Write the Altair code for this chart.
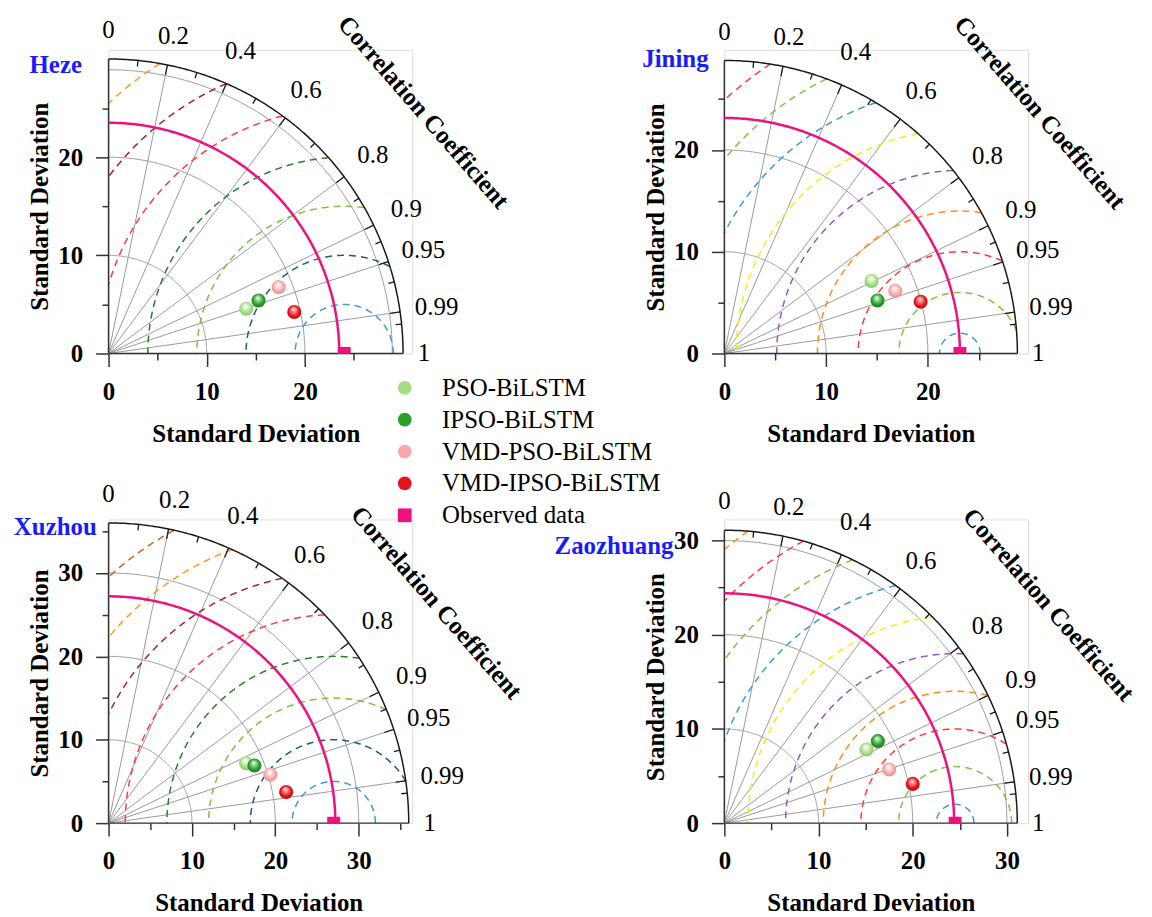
import numpy as np
import pandas as pd
import altair as alt

FONT = "Liberation Serif"

# ---------------- data ----------------
STATIONS = ["Heze", "Jining", "Xuzhou", "Zaozhuang"]
MODELS = ["PSO-BiLSTM", "IPSO-BiLSTM", "VMD-PSO-BiLSTM", "VMD-IPSO-BiLSTM"]
OBS_LABEL = "Observed data"

# standard deviation of each model (order of MODELS)
STD_HEZE = [14.75, 16.20, 18.60, 19.38]
STD_JINING = [16.13, 15.93, 17.89, 19.95]
STD_XUZHOU = [18.00, 18.81, 20.25, 21.62]
STD_ZAOZHUANG = [17.00, 18.48, 18.40, 20.43]
# correlation coefficient of each model (order of MODELS)
CORR_HEZE = [0.951, 0.943, 0.932, 0.976]
CORR_JINING = [0.897, 0.945, 0.939, 0.967]
CORR_XUZHOU = [0.917, 0.930, 0.958, 0.985]
CORR_ZAOZHUANG = [0.888, 0.882, 0.951, 0.979]

STD = {"Heze": STD_HEZE, "Jining": STD_JINING, "Xuzhou": STD_XUZHOU, "Zaozhuang": STD_ZAOZHUANG}
CORR = {"Heze": CORR_HEZE, "Jining": CORR_JINING, "Xuzhou": CORR_XUZHOU, "Zaozhuang": CORR_ZAOZHUANG}

OBS_STD = {"Heze": 24.0, "Jining": 23.15, "Xuzhou": 27.0, "Zaozhuang": 24.5}      # observed marker
OBS_ARC = {"Heze": 23.5, "Jining": 23.15, "Xuzhou": 27.2, "Zaozhuang": 24.4}      # magenta reference arc
STD_MAX = {"Heze": 30.0, "Jining": 28.8, "Xuzhou": 36.0, "Zaozhuang": 31.1}
STD_GRID = {"Heze": [10, 20, 28.9], "Jining": [10, 20], "Xuzhou": [10, 20, 30], "Zaozhuang": [10, 20, 30]}
STD_TICKS = {"Heze": [0, 5, 10, 15, 20, 25], "Jining": [0, 5, 10, 15, 20, 25],
             "Xuzhou": [0, 5, 10, 15, 20, 25, 30, 35], "Zaozhuang": [0, 5, 10, 15, 20, 25, 30]}
RMSD_LEVELS = {"Heze": [5, 10, 15, 20, 25, 30, 35],
               "Jining": [2, 6, 10, 14, 18, 22, 26, 30, 34],
               "Xuzhou": [5, 10, 15, 20, 25, 30, 35, 40],
               "Zaozhuang": [2, 6, 10, 14, 18, 22, 26, 30, 34, 38]}
CORR_LABELS = [0, 0.2, 0.4, 0.6, 0.8, 0.9, 0.95, 0.99, 1]
CORR_LINES = [0.2, 0.4, 0.6, 0.8, 0.9, 0.95, 0.99]
CORR_MINOR = [0.1, 0.3, 0.5, 0.7, 0.85, 0.925, 0.97, 0.995]

# ---------------- styles / layout ----------------
W = H = 305
PX_PER_UNIT = {"Heze": 9.86, "Jining": 10.22, "Xuzhou": 8.375, "Zaozhuang": 9.46}
PAL_A = ["#3d9bd6", "#1d5a84", "#7dc242", "#2b7d2b", "#ff3b3b", "#a32424", "#ff9a1f", "#c0681a"]
PAL_B = ["#3d9bd6", "#7dc242", "#ff3b3b", "#ff8c1a", "#9b59b6", "#f2ee1a"]
RMSD_PAL = {"Heze": PAL_A, "Jining": PAL_B, "Xuzhou": PAL_A, "Zaozhuang": PAL_B}
TITLE_PX = {"Heze": (-26.7, 281.3), "Jining": (-15.8, 287.6), "Xuzhou": (-11.8, 289.0), "Zaozhuang": (-51.1, 270.0)}
CC_PX = {"Heze": (316.3, 242.5), "Jining": (316.9, 242.0), "Xuzhou": (329.3, 221.5), "Zaozhuang": (325.7, 219.5)}
LABEL_GAP = {"0": 29, "0.2": 30, "0.4": 35.5, "0.6": 35, "0.8": 36, "0.9": 36.5, "0.95": 37, "0.99": 37, "1": 21}

OBS_COLOR = "#ee1180"
MODEL_BASE = ["#a6dc86", "#2a9d2a", "#f7a8a8", "#e8141c"]
MODEL_DARK = ["#78b85a", "#17701a", "#e08585", "#a00a0e"]
MODEL_LIGHT = ["#e6f7dc", "#9fe09f", "#fde4e4", "#ff9a9a"]


def sphere(i):
    return alt.Gradient(
        gradient="radial",
        stops=[alt.GradientStop(color="#ffffff", offset=0),
               alt.GradientStop(color=MODEL_LIGHT[i], offset=0.22),
               alt.GradientStop(color=MODEL_BASE[i], offset=0.6),
               alt.GradientStop(color=MODEL_DARK[i], offset=1)],
        x1=0.45, y1=0.3, r1=0.0, x2=0.5, y2=0.5, r2=0.62)


def panel(st, with_legend=False):
    k = PX_PER_UNIT[st]
    M = STD_MAX[st]
    D = W / k
    Rpx = M * k
    xs = alt.Scale(domain=[0, D], nice=False, zero=False)
    ys = alt.Scale(domain=[0, D], nice=False, zero=False)
    tsize = {"condition": {"test": "datum.value % 10 === 0", "value": 13}, "value": 6.5}
    common = dict(values=STD_TICKS[st], labelExpr="datum.value % 10 === 0 ? datum.label : ''",
                  tickSize=tsize, tickWidth=1.5, tickColor="#333333", domain=False, grid=False,
                  labelFont=FONT, labelFontSize=25, labelFontWeight="bold", labelColor="black",
                  labelOverlap=False, labelFlush=False, title="Standard Deviation",
                  titleFont=FONT, titleFontSize=25, titleFontWeight="bold", titleColor="black",
                  titleBaseline="alphabetic")
    xaxis = alt.Axis(labelPadding=13, titleX=Rpx / 2, titleY=88, **common)
    yaxis = alt.Axis(labelPadding=13, titleX=-61.5, titleY=H - Rpx / 2, **common)

    def X(f):
        return alt.X(f, type="quantitative", scale=xs, axis=xaxis)

    def Y(f):
        return alt.Y(f, type="quantitative", scale=ys, axis=yaxis)

    th = np.linspace(0, np.pi / 2, 181)

    def arc_df(radii):
        rows = []
        for r in radii:
            for i, t in enumerate(th):
                rows.append({"arc": str(r), "i": i, "x": r * np.cos(t), "y": r * np.sin(t)})
        return pd.DataFrame(rows)

    layers = []
    # std grid arcs
    layers.append(alt.Chart(arc_df(STD_GRID[st])).mark_line(stroke="#9a9a9a", strokeWidth=1).encode(
        x=X("x"), y=Y("y"), detail="arc:N", order="i:Q"))
    # radial correlation lines
    rl = pd.DataFrame([{"x0": 0.0, "y0": 0.0, "x1": M * c, "y1": M * np.sqrt(1 - c * c)} for c in CORR_LINES])
    layers.append(alt.Chart(rl).mark_rule(stroke="#9a9a9a", strokeWidth=1).encode(
        x=X("x0"), y=Y("y0"), x2="x1", y2="y1"))
    # centred RMSD arcs
    c0 = OBS_STD[st]
    rows = []
    pal = RMSD_PAL[st]
    for j, rho in enumerate(RMSD_LEVELS[st]):
        kk = (M * M - c0 * c0 - rho * rho) / (2 * c0 * rho)
        lo = np.arccos(np.clip(kk, -1, 1))
        hi = np.arccos(np.clip(-c0 / rho, -1, 1))
        if hi <= lo:
            continue
        for i, p in enumerate(np.linspace(lo, hi, 240)):
            rows.append({"arc": f"r{rho}", "i": i, "x": c0 + rho * np.cos(p), "y": rho * np.sin(p),
                         "col": pal[j % len(pal)]})
    layers.append(alt.Chart(pd.DataFrame(rows)).mark_line(strokeWidth=1.5, strokeDash=[7, 5]).encode(
        x=X("x"), y=Y("y"), detail="arc:N", order="i:Q", stroke=alt.Stroke("col:N", scale=None)))
    # outer arc
    layers.append(alt.Chart(arc_df([M])).mark_line(stroke="#1a1a1a", strokeWidth=1.5).encode(
        x=X("x"), y=Y("y"), detail="arc:N", order="i:Q"))
    # ticks on outer arc
    trows = []
    for c in CORR_LINES + CORR_MINOR:
        L = (10 if c in CORR_LINES else 6) / k
        s = np.sqrt(1 - c * c)
        trows.append({"x0": M * c, "y0": M * s, "x1": (M - L) * c, "y1": (M - L) * s})
    layers.append(alt.Chart(pd.DataFrame(trows)).mark_rule(stroke="#1a1a1a", strokeWidth=1.3).encode(
        x=X("x0"), y=Y("y0"), x2="x1", y2="y1"))
    # axis lines
    al = pd.DataFrame([{"x0": 0.0, "y0": 0.0, "x1": M, "y1": 0.0}, {"x0": 0.0, "y0": 0.0, "x1": 0.0, "y1": M}])
    layers.append(alt.Chart(al).mark_rule(stroke="#333333", strokeWidth=1.5).encode(
        x=X("x0"), y=Y("y0"), x2="x1", y2="y1"))
    # reference (observed std) arc
    layers.append(alt.Chart(arc_df([OBS_ARC[st]])).mark_line(stroke=OBS_COLOR, strokeWidth=2.5).encode(
        x=X("x"), y=Y("y"), detail="arc:N", order="i:Q"))
    # correlation labels
    lrows = []
    for c in CORR_LABELS:
        t = f"{c:g}"
        rr = M + LABEL_GAP[t] / k
        lrows.append({"t": t, "x": rr * c, "y": rr * np.sqrt(max(0.0, 1 - c * c))})
    layers.append(alt.Chart(pd.DataFrame(lrows)).mark_text(font=FONT, fontSize=25, color="black",
                                                           align="center", baseline="middle").encode(
        x=X("x"), y=Y("y"), text="t:N"))
    # axis title of the angular axis
    ccx, ccy = CC_PX[st]
    layers.append(alt.Chart(pd.DataFrame([{"t": "Correlation Coefficient", "x": ccx / k, "y": ccy / k}])).mark_text(
        font=FONT, fontSize=25, fontWeight="bold", color="black", angle=49, align="center",
        baseline="middle").encode(x=X("x"), y=Y("y"), text="t:N"))
    # station title
    tx, ty = TITLE_PX[st]
    layers.append(alt.Chart(pd.DataFrame([{"t": st, "x": tx / k, "y": ty / k}])).mark_text(
        font=FONT, fontSize=25, fontWeight="bold", color="#1a1aff", align="right",
        baseline="alphabetic").encode(x=X("x"), y=Y("y"), text="t:N"))

    pts = pd.DataFrame({"name": MODELS, "std": STD[st], "corr": CORR[st]})
    obs = pd.DataFrame({"name": [OBS_LABEL], "std": [OBS_STD[st]], "corr": [1.0]})
    calc = dict(px="datum.std * datum.corr", py="datum.std * sqrt(max(0, 1 - datum.corr * datum.corr))")

    if with_legend:
        names = MODELS + [OBS_LABEL]
        leg = alt.Legend(title=None, orient="none", legendX=285, legendY=327, labelFont=FONT,
                         labelFontSize=25, labelColor="black", labelLimit=0, symbolSize=190,
                         symbolStrokeWidth=0, symbolOpacity=1, rowPadding=6, labelOffset=25)
        layers.append(alt.Chart(pd.concat([pts, obs])).transform_calculate(**calc).mark_point(
            filled=True, size=150, opacity=1, clip=True).encode(
            x=X("px"), y=Y("py"),
            color=alt.Color("name:N", scale=alt.Scale(domain=names, range=MODEL_BASE + [OBS_COLOR]), legend=leg),
            shape=alt.Shape("name:N", scale=alt.Scale(domain=names, range=["circle"] * 4 + ["square"]), legend=leg)))

    layers.append(alt.Chart(obs).transform_calculate(**calc).mark_square(
        size=169, color=OBS_COLOR, opacity=1, clip=True).encode(x=X("px"), y=Y("py")))
    for i, m in enumerate(MODELS):
        layers.append(alt.Chart(pts).transform_filter(alt.datum.name == m).transform_calculate(**calc).mark_circle(
            size=200, fill=sphere(i), opacity=1).encode(x=X("px"), y=Y("py")))

    return alt.layer(*layers).properties(width=W, height=H)


chart = alt.concat(
    panel("Heze", True), panel("Jining"), panel("Xuzhou"), panel("Zaozhuang"),
    columns=2, spacing={"row": 166.7, "column": 313.5}, bounds="flush"
).properties(
    padding={"left": 5, "top": 0, "right": 5, "bottom": 5}
).configure_view(stroke=None).configure(font=FONT)

chart.save("out.html", embed_options={"renderer": "svg", "actions": False})
